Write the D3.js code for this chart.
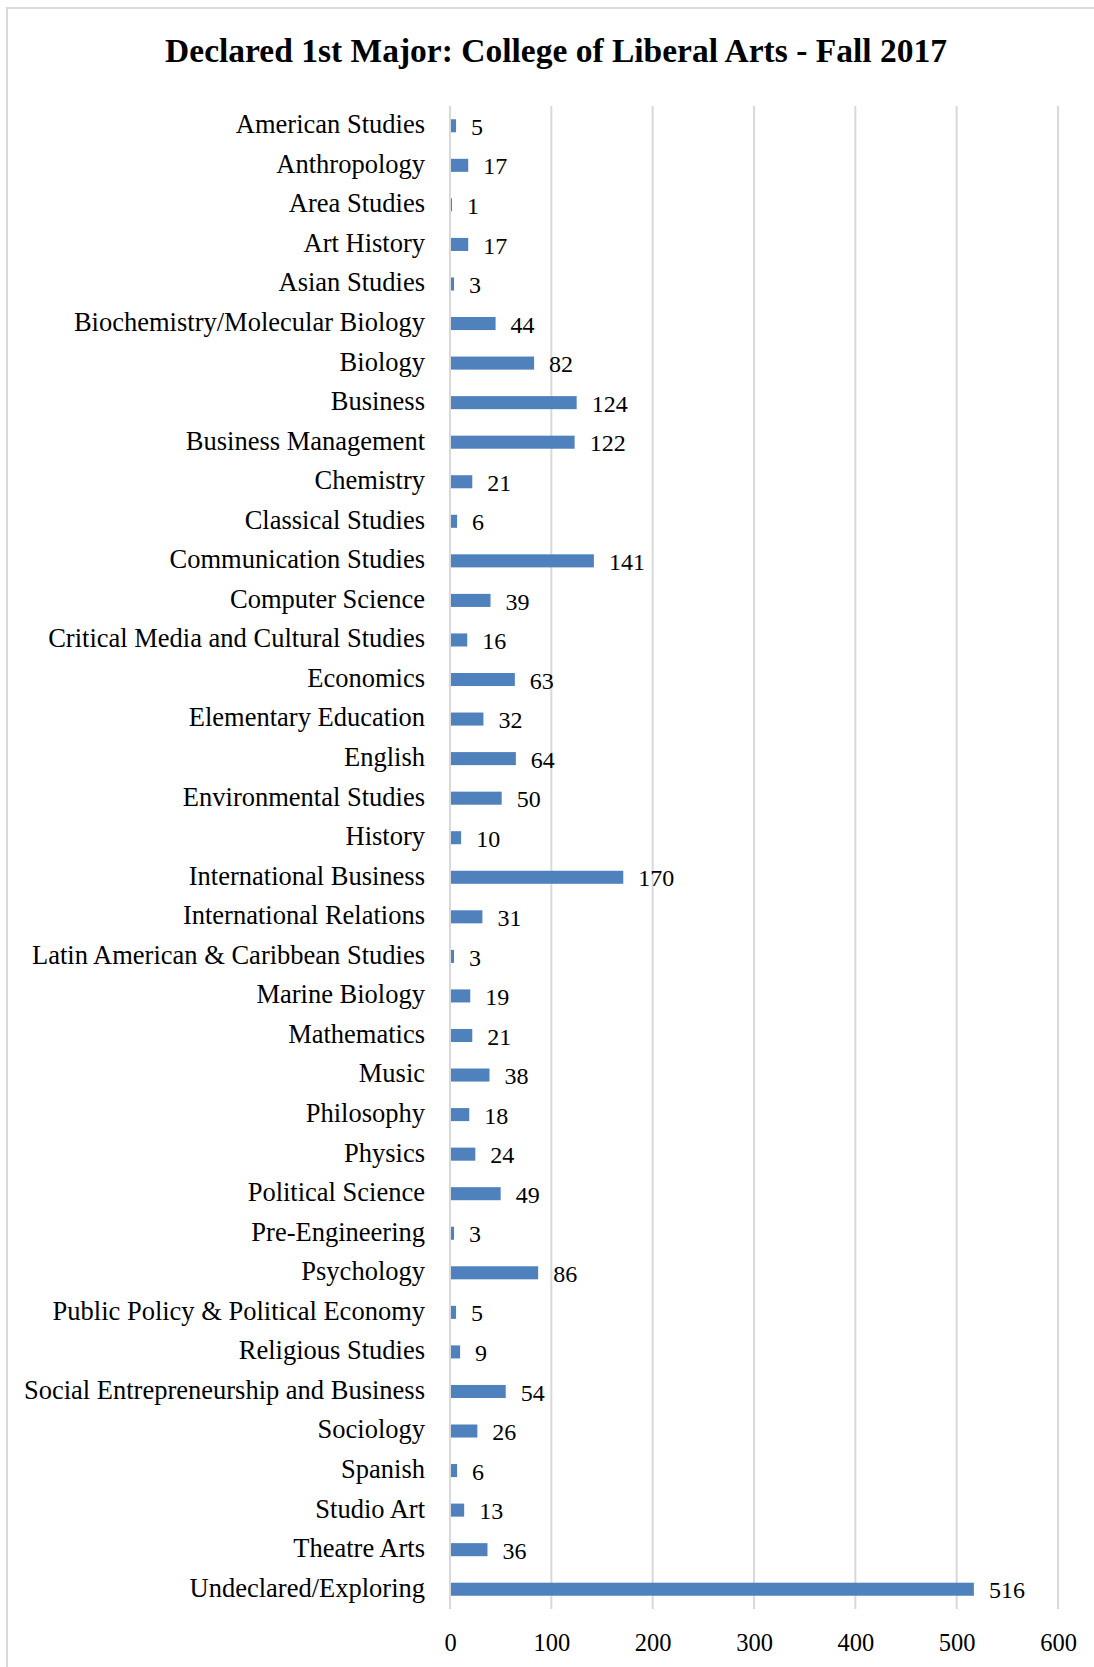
<!DOCTYPE html>
<html>
<head>
<meta charset="utf-8">
<script src="https://cdn.jsdelivr.net/npm/d3@7"></script>
<style>
  body { margin: 0; background: #fff; }
  svg { display: block; }
  text { font-family: "Liberation Serif", "Times New Roman", serif; fill: #000; }
</style>
</head>
<body>
<div id="chart"></div>
<script>
var majors = [
  "American Studies", "Anthropology", "Area Studies", "Art History", "Asian Studies",
  "Biochemistry/Molecular Biology", "Biology", "Business", "Business Management",
  "Chemistry", "Classical Studies", "Communication Studies", "Computer Science",
  "Critical Media and Cultural Studies", "Economics", "Elementary Education", "English",
  "Environmental Studies", "History", "International Business", "International Relations",
  "Latin American & Caribbean Studies", "Marine Biology", "Mathematics", "Music",
  "Philosophy", "Physics", "Political Science", "Pre-Engineering", "Psychology",
  "Public Policy & Political Economy", "Religious Studies",
  "Social Entrepreneurship and Business", "Sociology", "Spanish", "Studio Art",
  "Theatre Arts", "Undeclared/Exploring"
];
var students = [
  5, 17, 1, 17, 3, 44, 82, 124, 122, 21, 6, 141, 39, 16, 63, 32, 64, 50, 10, 170,
  31, 3, 19, 21, 38, 18, 24, 49, 3, 86, 5, 9, 54, 26, 6, 13, 36, 516
];
var xTicks = [0, 100, 200, 300, 400, 500, 600];

var width = 1094, height = 1667;
var margin = { top: 106, left: 450, right: 36, bottom: 58 };

var svg = d3.select("#chart").append("svg")
    .attr("width", width)
    .attr("height", height);

// chart border (only top and left edges fall inside the picture)
svg.append("path")
    .attr("d", "M7," + height + "V8H" + width)
    .attr("fill", "none")
    .attr("stroke", "#d9d9d9")
    .attr("stroke-width", 2);

svg.append("text")
    .attr("x", 556)
    .attr("y", 62)
    .attr("text-anchor", "middle")
    .style("font-size", "33.5px")
    .style("font-weight", "bold")
    .text("Declared 1st Major: College of Liberal Arts - Fall 2017");

var x = d3.scaleLinear()
    .domain([0, 600])
    .range([margin.left, width - margin.right]);

var y = d3.scaleBand()
    .domain(majors)
    .range([margin.top, height - margin.bottom])
    .paddingInner(0.67)
    .paddingOuter(0.335);

// gridlines
svg.append("g")
    .selectAll("line")
    .data(xTicks)
    .enter().append("line")
      .attr("x1", function(d) { return x(d); })
      .attr("x2", function(d) { return x(d); })
      .attr("y1", margin.top)
      .attr("y2", height - margin.bottom)
      .attr("stroke", "#d9d9d9")
      .attr("stroke-width", 2);

// tick labels
var xAxis = svg.append("g")
    .attr("transform", "translate(0," + (height - margin.bottom) + ")")
    .call(d3.axisBottom(x).tickValues(xTicks).tickSize(0).tickPadding(25));
xAxis.select(".domain").remove();
xAxis.selectAll("text")
    .style("font-family", "'Liberation Serif', serif")
    .style("font-size", "24.5px")
    .attr("fill", "#000");

// category labels
var yAxis = svg.append("g")
    .attr("transform", "translate(" + (margin.left - 25) + ",0)")
    .call(d3.axisLeft(y).tickSize(0).tickPadding(0));
yAxis.select(".domain").remove();
yAxis.selectAll("text")
    .style("font-family", "'Liberation Serif', serif")
    .style("font-size", "26.5px")
    .attr("fill", "#000")
    .attr("dy", "0.28em");

var rows = majors.map(function(m, i) { return { name: m, value: students[i] }; });

svg.append("g")
    .selectAll("rect")
    .data(rows)
    .enter().append("rect")
      .attr("x", x(0) + 1)
      .attr("y", function(d) { return y(d.name); })
      .attr("width", function(d) { return x(d.value) - x(0); })
      .attr("height", y.bandwidth())
      .attr("fill", "#4f81bd");

svg.append("g")
    .selectAll("text")
    .data(rows)
    .enter().append("text")
      .attr("x", function(d) { return x(d.value) + 16; })
      .attr("y", function(d) { return y(d.name) + y.bandwidth() / 2; })
      .attr("dy", "0.38em")
      .style("font-size", "24px")
      .text(function(d) { return d.value; });
</script>
</body>
</html>
